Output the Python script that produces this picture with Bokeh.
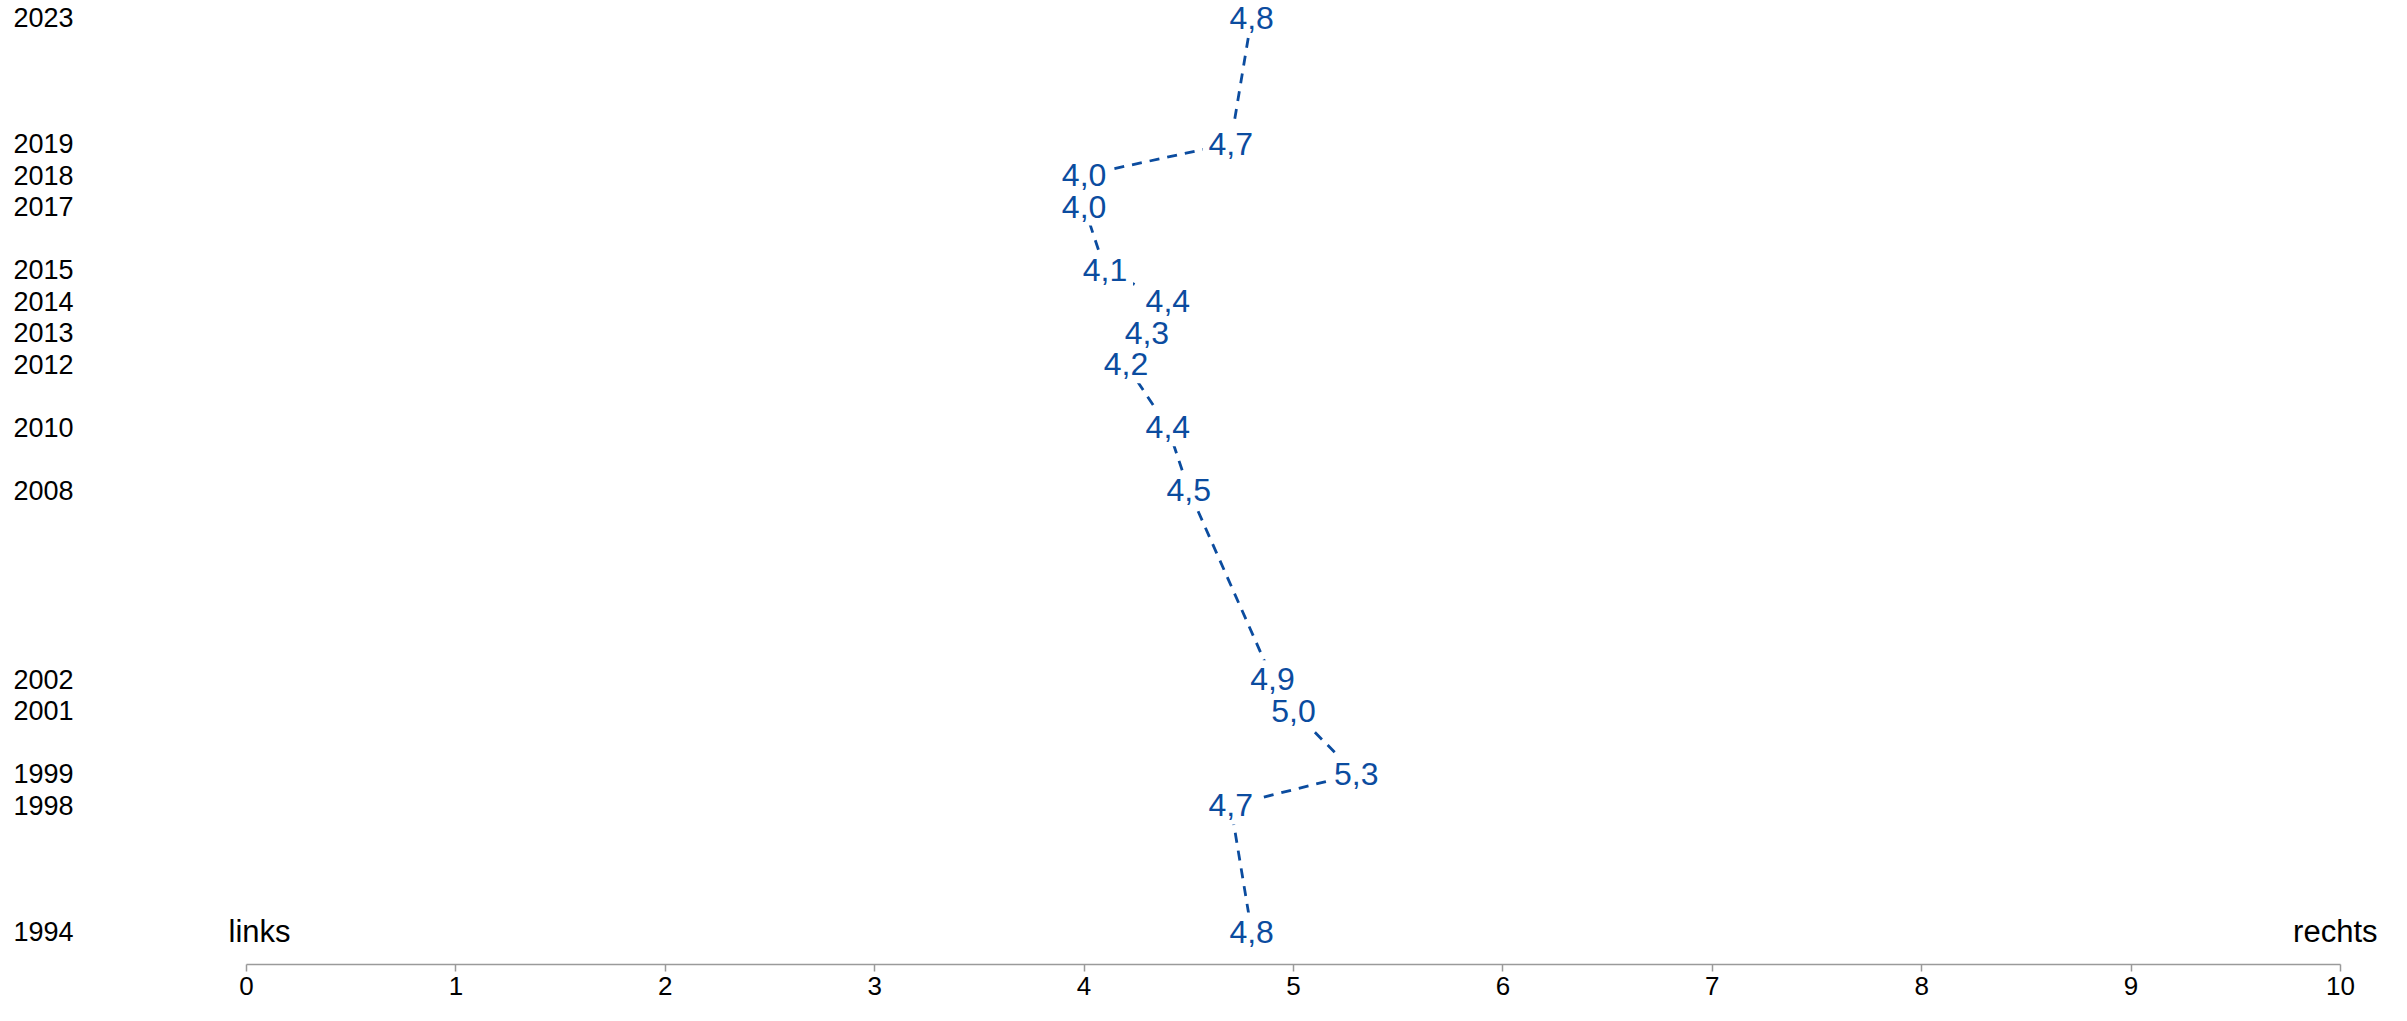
from bokeh.plotting import figure
from bokeh.models import FixedTicker, Range1d
from bokeh.core.properties import value
from bokeh.embed import file_html
from bokeh.resources import INLINE

# ---- data ----
years = [1994, 1998, 1999, 2001, 2002, 2008, 2010, 2012, 2013, 2014, 2015, 2017, 2018, 2019, 2023]
values = [4.8, 4.7, 5.3, 5.0, 4.9, 4.5, 4.4, 4.2, 4.3, 4.4, 4.1, 4.0, 4.0, 4.7, 4.8]
value_labels = ["4,8", "4,7", "5,3", "5,0", "4,9", "4,5", "4,4", "4,2", "4,3", "4,4", "4,1", "4,0", "4,0", "4,7", "4,8"]
x_ticks = [0, 1, 2, 3, 4, 5, 6, 7, 8, 9, 10]
scale_left = "links"
scale_right = "rechts"

# ---- style / layout ----
FONT = "Liberation Sans"
BLUE = "#0B4C9F"
GREY = "#9a9a9a"
W, H = 2391, 1005
LEFT_BORDER, BOTTOM_BORDER = 100, 41
X0_PX, UNIT_PX = 246.0, 209.4          # canvas x of value 0 and px per unit
FRAME_L, FRAME_R = LEFT_BORDER, W
Y_TOP_PX, Y_BOT_PX = 17.0, 931.0       # canvas y of newest and oldest year
FRAME_T, FRAME_B = 0, H - BOTTOM_BORDER
k = (Y_BOT_PX - Y_TOP_PX) / (max(years) - min(years))

x_start = (FRAME_L - X0_PX) / UNIT_PX
x_end = (FRAME_R - X0_PX) / UNIT_PX
y_end = max(years) + (Y_TOP_PX - FRAME_T) / k
y_start = max(years) - (FRAME_B - Y_TOP_PX) / k

p = figure(width=W, height=H, output_backend="svg", toolbar_location=None,
           x_range=Range1d(x_start, x_end), y_range=Range1d(y_start, y_end),
           min_border_left=LEFT_BORDER, min_border_right=0, min_border_top=0,
           min_border_bottom=BOTTOM_BORDER)
p.outline_line_color = None
p.grid.visible = False
p.background_fill_color = "white"
p.border_fill_color = "white"

# x axis
xa = p.xaxis[0]
xa.ticker = FixedTicker(ticks=x_ticks)
xa.bounds = (0, 10)
xa.axis_line_color = GREY
xa.axis_line_width = 1.5
xa.major_tick_line_color = GREY
xa.major_tick_line_width = 1.5
xa.major_tick_in = 0
xa.major_tick_out = 7
xa.minor_tick_line_color = None
xa.major_label_standoff = 5
xa.major_label_text_font = FONT
xa.major_label_text_font_size = "26px"
xa.major_label_text_color = "black"

# y axis (year labels)
ya = p.yaxis[0]
ya.ticker = FixedTicker(ticks=years)
ya.major_label_overrides = {y: str(y) for y in years}
ya.axis_line_color = None
ya.major_tick_line_color = None
ya.minor_tick_line_color = None
ya.major_tick_in = 0
ya.major_tick_out = 0
ya.major_label_standoff = 27
ya.major_label_text_font = FONT
ya.major_label_text_font_size = "27px"
ya.major_label_text_color = "black"

# dashed connecting line
p.line(values, years, line_color=BLUE, line_width=2.8, line_dash="10 8")
# gaps around the labels
p.rect(values, years, width=56, height=38, width_units="screen", height_units="screen",
       fill_color="white", line_color=None)
# value labels
p.text(values, years, text=value_labels, text_align="center", text_baseline="middle",
       text_font=value(FONT), text_font_size="32px", text_color=BLUE)

# scale end labels
p.text([0], [min(years)], text=[scale_left], text_align="left", text_baseline="middle",
       x_offset=-18, text_font=value(FONT), text_font_size="31px", text_color="black")
p.text([10], [min(years)], text=[scale_right], text_align="right", text_baseline="middle",
       x_offset=37, text_font=value(FONT), text_font_size="31px", text_color="black")

open("out.html", "w").write(file_html(p, INLINE))
